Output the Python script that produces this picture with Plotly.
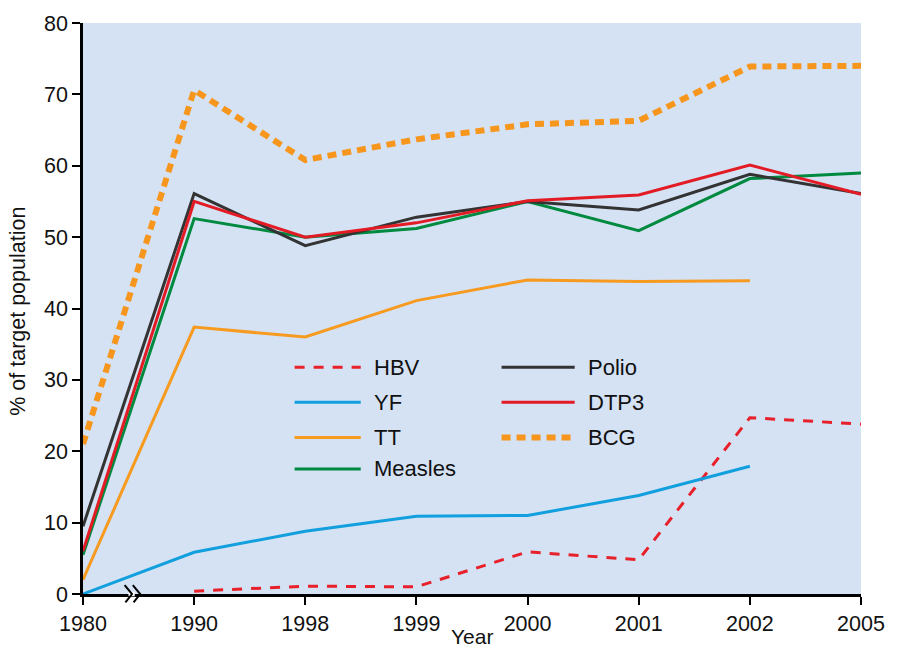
import plotly.graph_objects as go

years = ["1980", "1990", "1998", "1999", "2000", "2001", "2002", "2005"]

hbv = [None, 0.4, 1.1, 1.0, 5.9, 4.8, 24.7, 23.8]
yf = [0.0, 5.85, 8.8, 10.9, 11.0, 13.8, 17.9, None]
tt = [2.0, 37.4, 36.0, 41.1, 44.0, 43.8, 43.9, None]
measles = [5.5, 52.6, 50.0, 51.2, 55.0, 50.9, 58.2, 59.0]
polio = [9.5, 56.1, 48.8, 52.8, 55.0, 53.8, 58.8, 56.1]
dtp3 = [6.0, 55.0, 50.0, 52.0, 55.1, 55.9, 60.1, 56.0]
bcg = [21.0, 70.6, 60.8, 63.7, 65.8, 66.3, 73.9, 74.0]

y_ticks = [0, 10, 20, 30, 40, 50, 60, 70, 80]

FONT = "Liberation Sans, Arial, Helvetica, sans-serif"
BG = "#d4e2f4"

series = [
    ("HBV", hbv, "#e8202a", 3, "10px,9px"),
    ("YF", yf, "#129fdd", 3, "solid"),
    ("TT", tt, "#f79a20", 3, "solid"),
    ("Measles", measles, "#008a3f", 3, "solid"),
    ("Polio", polio, "#333333", 3, "solid"),
    ("DTP3", dtp3, "#e31b25", 3, "solid"),
    ("BCG", bcg, "#f7961d", 6, "9px,6px"),
]

fig = go.Figure()
x_idx = list(range(len(years)))
for name, vals, color, width, dash in series:
    fig.add_trace(go.Scatter(
        x=x_idx, y=vals, mode="lines", name=name,
        line=dict(color=color, width=width, dash=dash),
        connectgaps=False, showlegend=False,
    ))

# Hand-built two-column legend inside the plot area
shapes = []
annotations = []
col_x = [(0.272, 0.357, 0.372), (0.538, 0.632, 0.647)]
row_y = [0.397, 0.336, 0.274, 0.219]
left_col = series[:4]
right_col = series[4:]
for col, items in enumerate([left_col, right_col]):
    x0, x1, xt = col_x[col]
    for row, (name, vals, color, width, dash) in enumerate(items):
        yy = row_y[row]
        shapes.append(dict(
            type="line", xref="paper", yref="paper",
            x0=x0, x1=x1, y0=yy, y1=yy,
            line=dict(color=color, width=width, dash=dash),
        ))
        annotations.append(dict(
            text=name, xref="paper", yref="paper", x=xt, y=yy,
            xanchor="left", yanchor="middle", showarrow=False,
            font=dict(family=FONT, size=22, color="#111111"),
        ))

# Axis break marker between 1980 and 1990
shapes.append(dict(type="rect", xref="paper", yref="paper",
                   x0=0.0585, x1=0.0665, y0=-0.004, y1=0.004,
                   fillcolor="white", line=dict(width=0), layer="above"))
for dx in (0.0, 0.0105):
    bx = 0.0535 + dx
    shapes.append(dict(
        type="path", xref="paper", yref="paper",
        path=f"M {bx},0.0155 L {bx+0.0095},0.0 L {bx+0.001},-0.0145",
        line=dict(color="black", width=2), layer="above",
    ))

annotations.append(dict(
    text="% of target population", xref="paper", yref="paper",
    x=-0.083, y=0.495, textangle=-90, showarrow=False,
    xanchor="center", yanchor="middle",
    font=dict(family=FONT, size=21.5, color="#111111"),
))
annotations.append(dict(
    text="Year", xref="paper", yref="paper",
    x=0.5, y=-0.0965, showarrow=False, xanchor="center", yanchor="bottom",
    borderpad=0,
    font=dict(family=FONT, size=21, color="#111111"),
))

fig.update_layout(
    width=903, height=650,
    margin=dict(l=83, r=42, t=20, b=56),
    paper_bgcolor="white", plot_bgcolor=BG,
    font=dict(family=FONT, size=21.5, color="#111111"),
    shapes=shapes, annotations=annotations,
    showlegend=False,
)
fig.update_xaxes(
    range=[0, 7], tickvals=x_idx, ticktext=years,
    showgrid=False, zeroline=False,
    showline=True, linecolor="black", linewidth=2.5,
    ticks="outside", ticklen=8, tickwidth=2, tickcolor="black",
)
fig.update_yaxes(
    range=[0, 80], tickvals=y_ticks,
    showgrid=False, zeroline=False,
    showline=True, linecolor="black", linewidth=2.5,
    ticks="outside", ticklen=8, tickwidth=2, tickcolor="black",
)

fig.write_html("out.html")
